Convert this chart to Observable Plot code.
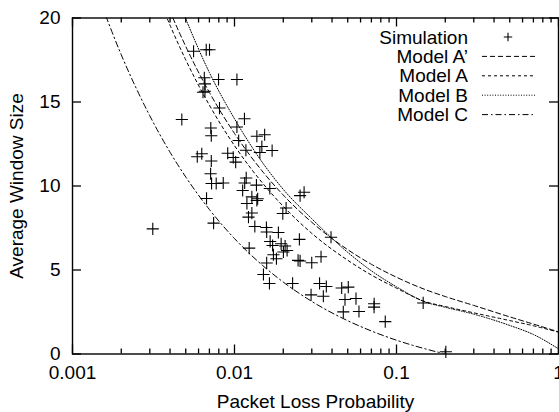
<!DOCTYPE html>
<html><head><meta charset="utf-8">
<script src="https://cdn.jsdelivr.net/npm/d3@7"></script>
<script src="https://cdn.jsdelivr.net/npm/@observablehq/plot@0.6"></script>
<style>
body{margin:0;background:#fff;}
#chart{position:relative;width:559px;height:412px;}
#chart svg{display:block}
#legend{position:absolute;left:0;top:0;pointer-events:none}
</style></head><body><div id="chart"></div>
<script>
// ---- axis ticks ----
const xTickValues = [0.001, 0.01, 0.1, 1];
const xTickLabels = ["0.001", "0.01", "0.1", "1"];
const xMinorTicks = [0.002,0.003,0.004,0.005,0.006,0.007,0.008,0.009,
                     0.02,0.03,0.04,0.05,0.06,0.07,0.08,0.09,
                     0.2,0.3,0.4,0.5,0.6,0.7,0.8,0.9];
const yTickValues = [0, 5, 10, 15, 20];
const yTickLabels = ["0", "5", "10", "15", "20"];
const xTitle = "Packet Loss Probability";
const yTitle = "Average Window Size";

// ---- simulation points ----
const simP = [0.00559,0.00669,0.00701,0.00651,0.00657,0.00639,0.00657,0.00797,0.01035,0.00808,
  0.00473,0.01152,0.00714,0.00719,0.01035,0.01061,0.01374,0.01535,0.00589,0.00628,
  0.00719,0.00908,0.00982,0.01017,0.01176,0.01475,0.01434,0.01707,0.00712,0.00722,
  0.00771,0.00852,0.01181,0.01156,0.01366,0.01123,0.01652,0.01280,0.01390,0.00672,
  0.02540,0.02689,0.00313,0.00743,0.01193,0.01374,0.01220,0.01280,0.01335,0.01574,
  0.01580,0.01866,0.01660,0.01719,0.01940,0.02053,0.02112,0.01739,0.01815,0.02004,
  0.02082,0.01987,0.02515,0.01232,0.01580,0.01509,0.01643,0.02469,0.0254,0.02998,
  0.03421,0.02284,0.03350,0.03688,0.02969,0.03535,0.03943,0.04589,0.05040,0.04809,
  0.05622,0.04694,0.05866,0.07278,0.0727,0.0852,0.1461,0.2016];
const simW = [18.02,18.11,18.11,16.44,16.08,15.58,15.64,16.34,16.34,14.64,
  13.96,14.0,13.45,12.99,13.51,12.71,12.96,13.05,11.74,11.92,
  11.49,11.95,11.70,11.42,12.13,12.35,11.99,12.11,10.73,10.15,
  10.15,10.18,10.48,10.18,10.05,9.73,9.85,9.35,9.24,9.26,
  9.43,9.63,7.45,7.79,8.96,9.14,8.15,8.39,7.59,7.53,
  7.26,7.23,6.70,6.46,6.56,6.43,6.16,5.91,5.67,6.07,
  8.69,8.36,6.82,6.30,5.42,4.73,4.20,5.57,5.54,5.43,
  5.79,4.20,4.20,4.02,3.52,3.44,6.95,3.93,3.98,3.24,
  3.30,2.51,2.53,2.99,2.79,1.93,3.04,0.13];

// ---- model curves ----
const modelP  = [0.0035,0.004,0.005,0.007,0.01,0.015,0.02,0.03,0.05,0.07,0.1,0.15,0.2,0.3,0.5,0.7,1];
const modelAPrimeW = [21.77,20.4,18.31,15.57,13.13,10.83,9.46,7.84,6.21,5.34,4.57,3.84,3.42,2.89,2.21,1.78,1.32];
const modelAW      = [20.92,19.57,17.51,14.81,12.40,10.14,8.79,7.18,5.58,4.70,3.92,3.12,2.83,2.45,1.99,1.68,1.30];
const modelBW      = [23.8,22.3,19.95,16.75,14.0,11.35,9.8,8.05,6.05,4.95,4.0,3.10,2.78,2.37,1.70,1.16,0.31];
const modelCP = [0.0015,0.002,0.003,0.004,0.005,0.007,0.01,0.015,0.02,0.03,0.05,0.07,0.1,0.15,0.2];
const modelCW = [20.87,17.81,14.18,12.01,10.54,8.60,6.87,5.25,4.28,3.13,1.98,1.37,0.82,0.31,0.0];

const legendLabels = ["Simulation", "Model A\u2019", "Model A", "Model B", "Model C"];
const dashes = {"Model A\u2019": "5,3", "Model A": "3,3", "Model B": "1,1.6", "Model C": "6,3,1.5,3"};

const sim = simP.map((p, i) => ({p, w: simW[i]}));
const mk = (P, W) => P.map((p, i) => ({p, w: W[i]}));
const curves = [
  ["Model A\u2019", mk(modelP, modelAPrimeW)],
  ["Model A", mk(modelP, modelAW)],
  ["Model B", mk(modelP, modelBW)],
  ["Model C", mk(modelCP, modelCW)]
];

const FONT = "'Liberation Sans', Arial, Helvetica, sans-serif";
const FS = 19;
const W = 559, H = 412, ML = 72, MR = 1, MT = 17.5, MB = 58.5;
const xDomain = [0.001, 1], yDomain = [0, 20];
const MAJOR = 9, MINOR = 5;
const lab = (vals, labels) => d => labels[vals.indexOf(d)];
const tickStyle = {stroke: "#000", strokeWidth: 1.3};

const plot = Plot.plot({
  width: W, height: H,
  marginLeft: ML, marginRight: MR, marginTop: MT, marginBottom: MB,
  x: {type: "log", domain: xDomain},
  y: {domain: yDomain},
  style: {fontFamily: FONT, fontSize: FS + "px", color: "#000", background: "#fff", overflow: "visible"},
  marks: [
    ...curves.map(([name, data]) => Plot.line(data, {x: "p", y: "w", stroke: "#000", strokeWidth: 1,
      strokeDasharray: dashes[name], curve: "monotone-x", clip: true})),
    Plot.dot(sim, {x: "p", y: "w", symbol: "plus", r: 4, stroke: "#000", strokeWidth: 1.1}),
    // tick labels
    Plot.axisX({ticks: xTickValues, tickSize: 0, tickPadding: 11, tickFormat: lab(xTickValues, xTickLabels), label: null, fontSize: FS}),
    Plot.axisY({ticks: yTickValues, tickSize: 0, tickPadding: 12, tickFormat: lab(yTickValues, yTickLabels), label: null, fontSize: FS}),
    // inward ticks on all four sides (zero-length rules at the frame edge, extended by negative insets)
    Plot.ruleX(xTickValues, {x: d => d, y1: yDomain[0], y2: yDomain[0], insetTop: -MAJOR, ...tickStyle}),
    Plot.ruleX(xTickValues, {x: d => d, y1: yDomain[1], y2: yDomain[1], insetBottom: -MAJOR, ...tickStyle}),
    Plot.ruleX(xMinorTicks, {x: d => d, y1: yDomain[0], y2: yDomain[0], insetTop: -MINOR, ...tickStyle}),
    Plot.ruleX(xMinorTicks, {x: d => d, y1: yDomain[1], y2: yDomain[1], insetBottom: -MINOR, ...tickStyle}),
    Plot.ruleY(yTickValues, {y: d => d, x1: xDomain[0], x2: xDomain[0], insetRight: -MAJOR, ...tickStyle}),
    Plot.ruleY(yTickValues, {y: d => d, x1: xDomain[1], x2: xDomain[1], insetLeft: -MAJOR, ...tickStyle}),
    Plot.frame({stroke: "#000", strokeWidth: 1.4}),
    Plot.text([xTitle], {frameAnchor: "bottom", dy: 48, lineAnchor: "middle", textAnchor: "middle", fontSize: FS}),
    Plot.text([yTitle], {frameAnchor: "left", dx: -56, rotate: -90, lineAnchor: "middle", textAnchor: "middle", fontSize: FS})
  ]
});
const chart = document.getElementById("chart");
chart.appendChild(plot);

// legend inside the plot (top right), drawn as an overlay
const ns = "http://www.w3.org/2000/svg";
const lg = document.createElementNS(ns, "svg");
lg.setAttribute("id", "legend");
lg.setAttribute("width", W); lg.setAttribute("height", H);
const textRight = 468, sampleX1 = 482, sampleX2 = 536, y0 = 37, step = 19.4;
legendLabels.forEach((name, i) => {
  const y = y0 + i * step;
  const t = document.createElementNS(ns, "text");
  t.setAttribute("x", textRight); t.setAttribute("y", y);
  t.setAttribute("text-anchor", "end"); t.setAttribute("dominant-baseline", "central");
  t.setAttribute("font-family", FONT); t.setAttribute("font-size", FS);
  t.textContent = name;
  lg.appendChild(t);
  if (name === "Simulation") {
    const cx = (sampleX1 + sampleX2) / 2 - 1, r = 4.2;
    const p = document.createElementNS(ns, "path");
    p.setAttribute("d", `M${cx - r},${y}H${cx + r}M${cx},${y - r}V${y + r}`);
    p.setAttribute("stroke", "#000"); p.setAttribute("stroke-width", 1.1);
    lg.appendChild(p);
  } else {
    const l = document.createElementNS(ns, "line");
    l.setAttribute("x1", sampleX1); l.setAttribute("x2", sampleX2);
    l.setAttribute("y1", y); l.setAttribute("y2", y);
    l.setAttribute("stroke", "#000"); l.setAttribute("stroke-width", 1);
    l.setAttribute("stroke-dasharray", dashes[name]);
    lg.appendChild(l);
  }
});
chart.appendChild(lg);
</script></body></html>
